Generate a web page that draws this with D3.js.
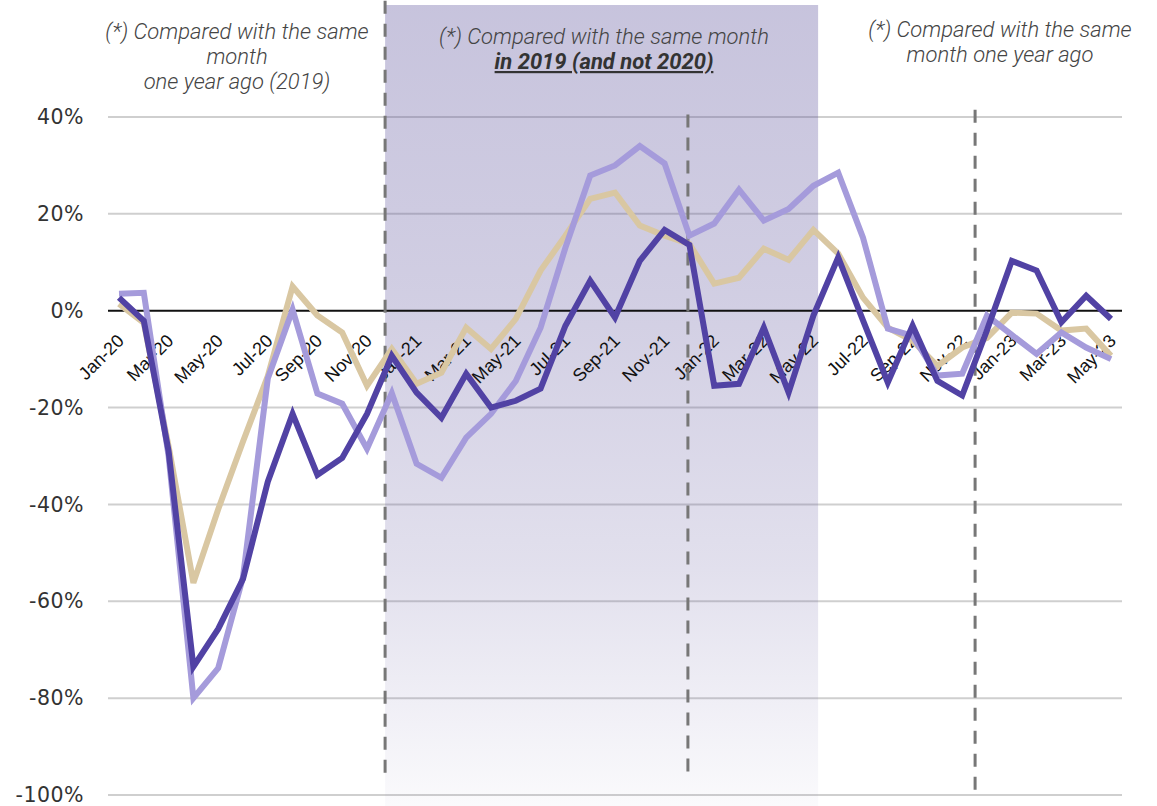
<!DOCTYPE html>
<html>
<head>
<meta charset="utf-8">
<script src="https://cdn.jsdelivr.net/npm/d3@7"></script>
<style>
  body { margin: 0; background: #fff; }
  svg { display: block; }
</style>
</head>
<body>
<div class="chart"></div>
<script>
// month categories (x axis)
var months = ["Jan-20","Feb-20","Mar-20","Apr-20","May-20","Jun-20","Jul-20","Aug-20","Sep-20","Oct-20","Nov-20","Dec-20",
              "Jan-21","Feb-21","Mar-21","Apr-21","May-21","Jun-21","Jul-21","Aug-21","Sep-21","Oct-21","Nov-21","Dec-21",
              "Jan-22","Feb-22","Mar-22","Apr-22","May-22","Jun-22","Jul-22","Aug-22","Sep-22","Oct-22","Nov-22","Dec-22",
              "Jan-23","Feb-23","Mar-23","Apr-23","May-23"];

// series values, % change
var seriesDark = [2.7, -2.1, -29, -73.5, -65.7, -55.4, -35.3, -21.3, -33.9, -30.4, -21.3, -9.3,
                  -16.9, -22.1, -13.0, -20.0, -18.6, -16.1, -3.1, 6.2, -1.4, 10.3, 16.7, 13.6,
                  -15.5, -15.1, -3.5, -16.9, -1, 11.0, -2, -14.8, -3.1, -14.5, -17.5, -4,
                  10.3, 8.3, -2.4, 3.1, -1.7];
var seriesLight = [3.5, 3.7, -30, -80, -73.8, -55, -14, 0.2, -17.1, -19.2, -28.5, -17,
                   -31.6, -34.5, -26.2, -21.3, -14.5, -3.5, 13, 27.9, 30, 34, 30.4, 15.5,
                   18, 25, 18.6, 21, 25.8, 28.5, 15.1, -3.7, -5.2, -13.4, -13, -1,
                   -5, -8.9, -4.5, -7.6, -10];
var seriesTan = [1.4, -2.5, -28, -56.2, -41, -27, -13.5, 5, -1, -4.5, -15.5, -7.9,
                 -15.1, -12.8, -3.5, -7.9, -1.7, 8.3, 15.5, 23.1, 24.4, 17.6, 15.5, 13.8,
                 5.6, 6.8, 12.8, 10.5, 16.7, 11.8, 2.7, -3.5, -6.2, -11.4, -7.6, -5.6,
                 -0.4, -0.6, -4.1, -3.7, -9.3];

var yTicks = [40, 20, 0, -20, -40, -60, -80, -100];

// annotation positions in month-index units
var shadeFrom = 10.73, shadeTo = 28.19;
var dividers = [{at: 10.73, top: 64, bottom: -97}, {at: 22.94, top: 40.5, bottom: -97}, {at: 34.52, top: 41.5, bottom: -99}];

var w = 1157, h = 806;
var svg = d3.select(".chart").append("svg").attr("width", w).attr("height", h);

var x = d3.scaleLinear().domain([0, months.length - 1]).range([119, 1111]);
var y = d3.scaleLinear().domain([-100, 40]).range([795, 117]);

// gradient for the shaded period
var defs = svg.append("defs");
var grad = defs.append("linearGradient").attr("id", "shade").attr("x1", 0).attr("y1", 0).attr("x2", 0).attr("y2", 1);
grad.append("stop").attr("offset", "0").attr("stop-color", "rgb(100,90,160)").attr("stop-opacity", 0.36);
grad.append("stop").attr("offset", "0.35").attr("stop-color", "rgb(100,90,160)").attr("stop-opacity", 0.30);
grad.append("stop").attr("offset", "0.7").attr("stop-color", "rgb(100,90,160)").attr("stop-opacity", 0.19);
grad.append("stop").attr("offset", "1").attr("stop-color", "rgb(100,90,160)").attr("stop-opacity", 0.03);

// gridlines
svg.append("g").selectAll("line")
  .data(yTicks.filter(function(d){ return d != 0; }))
  .enter().append("line")
  .attr("x1", 108).attr("x2", 1122)
  .attr("y1", function(d){ return y(d); }).attr("y2", function(d){ return y(d); })
  .attr("stroke", "#cfcfcf").attr("stroke-width", 2);

// shaded band
svg.append("rect")
  .attr("x", x(shadeFrom)).attr("width", x(shadeTo) - x(shadeFrom))
  .attr("y", 5).attr("height", h - 5)
  .attr("fill", "url(#shade)");

// zero line
svg.append("line")
  .attr("x1", 108).attr("x2", 1122)
  .attr("y1", y(0)).attr("y2", y(0))
  .attr("stroke", "#111").attr("stroke-width", 2);

// y labels
svg.append("g").selectAll("text")
  .data(yTicks).enter().append("text")
  .attr("x", 84).attr("y", function(d){ return y(d); })
  .attr("dy", "0.35em")
  .attr("text-anchor", "end")
  .style("font-family", "'DejaVu Sans', sans-serif")
  .style("font-size", "20.5px")
  .style("letter-spacing", "0.5px")
  .attr("fill", "#333")
  .text(function(d){ return d + "%"; });

// x labels, every second month
svg.append("g").selectAll("text")
  .data(months.filter(function(d, i){ return i % 2 == 0; }))
  .enter().append("text")
  .attr("transform", function(d){ return "translate(" + (x(months.indexOf(d)) + 6) + ",342) rotate(-45)"; })
  .attr("text-anchor", "end")
  .style("font-family", "'Liberation Sans', Arial, sans-serif")
  .style("font-size", "18px")
  .attr("fill", "#111")
  .text(function(d){ return d; });

// dashed dividers
svg.append("g").selectAll("line")
  .data(dividers).enter().append("line")
  .attr("x1", function(d){ return x(d.at); }).attr("x2", function(d){ return x(d.at); })
  .attr("y1", function(d){ return y(d.top); }).attr("y2", function(d){ return y(d.bottom); })
  .attr("stroke", "#777").attr("stroke-width", 3)
  .attr("stroke-dasharray", "13,10");

// lines
var line = d3.line()
  .x(function(d, i){ return x(i); })
  .y(function(d){ return y(d); });

var series = [
  {values: seriesTan, color: "#d9c7a2"},
  {values: seriesLight, color: "#a59bdb"},
  {values: seriesDark, color: "#5142a4"}
];
svg.append("g").selectAll("path")
  .data(series).enter().append("path")
  .attr("d", function(d){ return line(d.values); })
  .attr("fill", "none")
  .attr("stroke", function(d){ return d.color; })
  .attr("stroke-width", 6)
  .attr("stroke-linejoin", "miter");

// annotations
function note(cx, lines) {
  var t = svg.append("text")
    .attr("text-anchor", "middle")
    .style("font-family", "Roboto, sans-serif")
    .style("font-style", "italic")
    .style("font-weight", 300)
    .style("font-size", "22px")
    .attr("fill", "#444");
  lines.forEach(function(l){
    var s = t.append("tspan").attr("x", cx).attr("y", l.y).text(l.text);
    if (l.bold) {
      s.style("font-weight", 700).attr("fill", "#333").style("text-decoration", "underline");
    }
  });
}
note(237, [{text: "(*) Compared with the same", y: 39}, {text: "month", y: 64}, {text: "one year ago (2019)", y: 89}]);
note(604, [{text: "(*) Compared with the same month", y: 44}, {text: "in 2019 (and not 2020)", y: 69, bold: true}]);
note(1000, [{text: "(*) Compared with the same", y: 37}, {text: "month one year ago", y: 62}]);
</script>
</body>
</html>
